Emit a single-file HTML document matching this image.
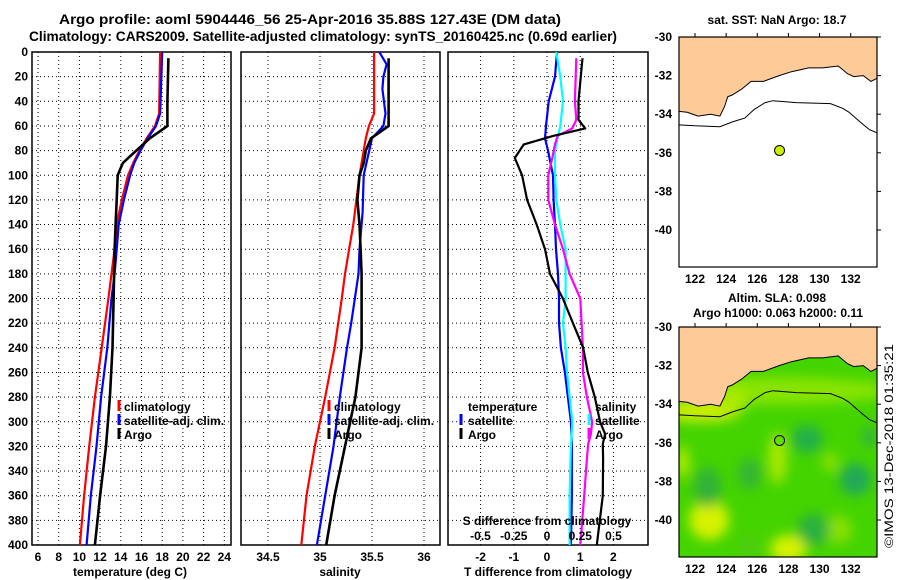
<!DOCTYPE html>
<html><head><meta charset="utf-8"><style>
html,body{margin:0;padding:0;background:#fff;}
svg{display:block;font-family:"Liberation Sans",sans-serif;font-weight:bold;}
</style></head><body>
<svg id="fig" width="900" height="580" viewBox="0 0 900 580" xmlns="http://www.w3.org/2000/svg">
<text x="310" y="24" font-size="14" text-anchor="middle" textLength="502" lengthAdjust="spacingAndGlyphs">Argo profile: aoml 5904446_56 25-Apr-2016 35.88S 127.43E (DM data)</text>
<text x="323" y="41" font-size="14" text-anchor="middle" textLength="588" lengthAdjust="spacingAndGlyphs">Climatology: CARS2009. Satellite-adjusted climatology: synTS_20160425.nc (0.69d earlier)</text>
<g id="g"></g>
<text transform="translate(893,548) rotate(-90)" font-size="12" font-weight="normal" textLength="204" lengthAdjust="spacingAndGlyphs">©IMOS 13-Dec-2018 01:35:21</text>
</svg>
<script>
// ---- data ----
const tDepthClim=[0,50,60,70,80,90,100,120,140,160,180,200,240,280,320,360,400];
const tempClim=[17.8,17.7,17.3,16.5,15.8,15.2,14.7,14.1,13.6,13.4,13.1,12.8,12.15,11.5,10.95,10.45,10.05];
const tempSat=[18.0,17.8,17.4,16.6,15.9,15.3,14.9,14.3,13.8,13.6,13.4,13.1,12.7,12.1,11.65,11.1,10.7];
const argoDepth=[5,40,60,70,80,90,100,120,140,160,180,200,240,280,320,360,400];
const tempArgo=[18.6,18.5,18.5,16.8,15.5,14.2,13.7,13.6,13.5,13.4,13.35,13.3,13.2,12.95,12.57,12.0,11.5];
const salClim=[35.52,35.52,35.47,35.44,35.42,35.40,35.38,35.35,35.32,35.28,35.24,35.21,35.14,35.05,34.95,34.87,34.82];
const salSatDepth=[0,10,20,30,50,60,70,100,130,160,180,220,240,280,320,360,400];
const salSat=[35.57,35.64,35.61,35.60,35.63,35.61,35.50,35.42,35.41,35.38,35.37,35.30,35.26,35.19,35.13,35.05,34.97];
const salArgo=[35.66,35.66,35.66,35.49,35.44,35.42,35.38,35.36,35.38,35.39,35.40,35.40,35.40,35.34,35.24,35.14,35.06];
const dDepth=[0,20,40,60,70,80,100,120,140,160,180,200,220,240,260,280,300,320,360,400];
const tDiffSat=[0.30,0.24,0.05,-0.03,-0.06,0.03,0.18,0.20,0.24,0.27,0.33,0.36,0.36,0.42,0.54,0.63,0.72,0.75,0.75,0.72];
const sDiffSat=[0.07,0.10,0.12,0.10,0.08,0.06,0.06,0.07,0.10,0.14,0.14,0.14,0.12,0.14,0.15,0.17,0.19,0.18,0.17,0.17];
const aDepth=[5,40,55,62,68,75,86,100,120,140,160,180,200,220,240,260,280,300,310,318,330,360,400];
const tDiffArgo=[1.07,0.95,0.95,1.15,0.20,-0.70,-0.97,-0.75,-0.60,-0.31,-0.06,0.09,0.48,0.78,1.09,1.23,1.44,1.60,1.75,1.68,1.69,1.68,1.50];
const sDiffArgo=[0.22,0.21,0.22,0.19,0.08,0.06,0.04,0.01,0.01,0.06,0.12,0.17,0.25,0.26,0.27,0.27,0.30,0.34,0.33,0.31,0.30,0.28,0.25];
const depthTicks=[0,20,40,60,80,100,120,140,160,180,200,220,240,260,280,300,320,340,360,380,400];
const tempTicks=[6,8,10,12,14,16,18,20,22,24];
const salTicks=[34.5,35,35.5,36];
const tdTicks=[-2,-1,0,1,2];
const sdTicks=[-0.5,-0.25,0,0.25,0.5];
const sdTickLabels=["-0.5","-0.25","0","0.25","0.5"];
const lonTicks=[122,124,126,128,130,132];
const latTicks=[-30,-32,-34,-36,-38,-40];
const coastLon=[120.9,121.5,122.2,123.0,123.6,123.9,124.1,124.4,125.0,125.6,126.4,127.4,128.2,129.3,130.2,131.2,131.8,132.2,132.8,133.3,133.8];
const coastLat=[-33.85,-33.9,-34.1,-34.0,-34.1,-33.6,-33.1,-33.0,-32.7,-32.3,-32.3,-32.0,-31.8,-31.6,-31.6,-31.5,-31.9,-32.05,-32.0,-32.3,-32.1];
const isoLon=[120.9,122.0,123.6,124.4,125.2,125.8,126.5,127.0,128.5,130.7,131.5,131.9,132.6,133.2,133.8];
const isoLat=[-34.55,-34.6,-34.65,-34.4,-34.2,-33.75,-33.4,-33.3,-33.4,-33.45,-33.7,-33.9,-34.4,-34.8,-35.0];
const floatLon=127.43, floatLat=-35.88;

// ---- helpers ----
const NS="http://www.w3.org/2000/svg";const G=document.getElementById('g');
function mk(tag,attrs,parent){const e=document.createElementNS(NS,tag);for(const k in attrs)e.setAttribute(k,attrs[k]);(parent||G).appendChild(e);return e;}
const Y0=52,Y1=545;
const yD=d=>Y0+d*(Y1-Y0)/400;
function panel(x0,x1,xf,xticks,labels,name){
  const g=mk('g',{});
  
  
  depthTicks.forEach(d=>{if(d>0&&d<400){const l=mk('line',{x1:x0,x2:x1,y1:yD(d),y2:yD(d),stroke:'#000','stroke-width':1,'stroke-dasharray':'1,3'},g);}});
  xticks.forEach((v,i)=>{const x=xf(v);if(x>x0+2&&x<x1-2){const l=mk('line',{x1:x,x2:x,y1:Y0,y2:Y1,stroke:'#000','stroke-width':1,'stroke-dasharray':'1,3'},g);}
    const t=mk('text',{x:x,y:561,'font-size':12,'text-anchor':'middle'},g);t.textContent=labels?labels[i]:v;});
  const r=mk('rect',{x:x0,y:Y0,width:x1-x0,height:Y1-Y0,fill:'none',stroke:'#000','stroke-width':1.5},g);
  
  return g;
}
function line(xs,ds,xf,color,w,name){
  const p=xs.map((v,i)=>xf(v).toFixed(1)+','+yD(ds[i]).toFixed(1)).join(' ');
  const e=mk('polyline',{points:p,fill:'none',stroke:color,'stroke-width':w,'stroke-linejoin':'round'});
  
  
}
function txt(x,y,s,size,name,anchor){const t=mk('text',{x:x,y:y,'font-size':size||12,'text-anchor':anchor||'start'});t.textContent=s;
  return t;}
function legTick(x,y,color,name){const l=mk('line',{x1:x,x2:x,y1:y-10,y2:y+1,stroke:color,'stroke-width':3});}

// ---- panel 1: temperature ----
const xT=v=>38+(v-6)*10.35;
panel(32,231,xT,tempTicks,null,'temperature-panel');
depthTicks.forEach(d=>{txt(28,yD(d)+4,d,12,'y-tick-label','end');});
line(tempClim,tDepthClim,xT,'#f00',2.2,'temp-climatology-line');
line(tempSat,tDepthClim,xT,'#00f',2.2,'temp-satellite-line');
line(tempArgo,argoDepth,xT,'#000',2.6,'temp-argo-line');
txt(130,576,'temperature (deg C)',12,'x-axis-title','middle');
legTick(119,410,'#f00','legend-swatch-climatology');txt(124,411,'climatology',12,'legend-climatology');
legTick(119,424,'#00f','legend-swatch-satellite');txt(124,425,'satellite-adj. clim.',12,'legend-satellite-adj');
legTick(119,438,'#000','legend-swatch-argo');txt(124,439,'Argo',12,'legend-argo');

// ---- panel 2: salinity ----
const xS=v=>320+(v-35)*104;
panel(241,440,xS,salTicks,null,'salinity-panel');
line(salClim,tDepthClim,xS,'#f00',2.2,'sal-climatology-line');
line(salSat,salSatDepth,xS,'#00f',2.2,'sal-satellite-line');
line(salArgo,argoDepth,xS,'#000',2.6,'sal-argo-line');
txt(340,576,'salinity',12,'x-axis-title','middle');
legTick(329,410,'#f00','legend-swatch-climatology');txt(334,411,'climatology',12,'legend-climatology');
legTick(329,424,'#00f','legend-swatch-satellite');txt(334,425,'satellite-adj. clim.',12,'legend-satellite-adj');
legTick(329,438,'#000','legend-swatch-argo');txt(334,439,'Argo',12,'legend-argo');

// ---- panel 3: differences ----
const xTD=v=>547+v*33.2;
const xSD=v=>547+v*133;
panel(448,648,xTD,tdTicks,null,'difference-panel');
line(tDiffSat,dDepth,xTD,'#00f',2.2,'tdiff-satellite-line');
line(sDiffSat,dDepth,xSD,'#0ff',2.2,'sdiff-satellite-line');
line(sDiffArgo,aDepth,xSD,'#f0f',2.2,'sdiff-argo-line');
line(tDiffArgo,aDepth,xTD,'#000',2.2,'tdiff-argo-line');
txt(548,576,'T difference from climatology',12,'x-axis-title','middle');
txt(547,525,'S difference from climatology',12,'s-axis-title','middle');
sdTicks.forEach((v,i)=>txt(xSD(v),540,sdTickLabels[i],12,'s-tick-label','middle'));
txt(468,411,'temperature',12,'legend-temperature-header');
legTick(461,424,'#00f','legend-swatch-t-satellite');txt(468,425,'satellite',12,'legend-t-satellite');
legTick(461,438,'#000','legend-swatch-t-argo');txt(468,439,'Argo',12,'legend-t-argo');
txt(595,411,'salinity',12,'legend-salinity-header');
legTick(589,424,'#0ff','legend-swatch-s-satellite');txt(595,425,'satellite',12,'legend-s-satellite');
legTick(589,438,'#f0f','legend-swatch-s-argo');txt(595,439,'Argo',12,'legend-s-argo');

// ---- maps ----
const MX0=679,MX1=877;
const lonX=l=>695+(l-122)*15.57;
function map(top,name,green){
  const latY=l=>top+(-30-l)*19.3;
  const bot=top+230;
  const g=mk('g',{});
  const cid='clip'+top;
  const cp=mk('clipPath',{id:cid},g);mk('rect',{x:MX0,y:top,width:MX1-MX0,height:bot-top},cp);
  const inner=mk('g',{'clip-path':'url(#'+cid+')'},g);
  if(green){
    const fid='blur'+top;const f=mk('filter',{id:fid,x:'-50%',y:'-50%',width:'200%',height:'200%'},g);mk('feGaussianBlur',{stdDeviation:6},f);
    const bg=mk('rect',{x:MX0,y:top,width:MX1-MX0,height:bot-top,fill:'#44d400'},inner);
    const blobs=mk('g',{filter:'url(#'+fid+')'},inner);
    [[127,-33.3,120,14,'#88e400'],[122.4,-34.4,40,10,'#ccee00'],[124.5,-33.8,14,12,'#aaea00'],
     [122.9,-40,20,20,'#d6f200'],[128,-41.5,18,14,'#d8f200'],[127.3,-36.8,9,26,'#aaea00'],[121.2,-37,6,16,'#c0ee00'],[131.2,-40.5,14,14,'#88e000'],[130.7,-37,7,9,'#99e400'],
     [129.2,-35.8,16,14,'#22b048'],[132.3,-37.9,16,16,'#20a858'],[122.8,-38.3,14,20,'#30b238'],[125.5,-37.6,12,16,'#34b636'],[129.6,-40.5,16,16,'#2cb040'],[133.2,-35.7,8,10,'#30b440'],[125.5,-41.3,12,10,'#50cc10']]
     .forEach(b=>mk('ellipse',{cx:lonX(b[0]),cy:latY(b[1]),rx:b[2],ry:b[3],fill:b[4]},blobs));
  }
  const cpts=coastLon.map((l,i)=>lonX(l).toFixed(1)+','+latY(coastLat[i]).toFixed(1));
  const land=mk('polygon',{points:MX0-5+','+(top-5)+' '+cpts.join(' ')+' '+(MX1+5)+','+(top-5),fill:'#fdca98',stroke:'#000','stroke-width':1},inner);
  
  const iso=mk('polyline',{points:isoLon.map((l,i)=>lonX(l).toFixed(1)+','+latY(isoLat[i]).toFixed(1)).join(' '),fill:'none',stroke:'#000','stroke-width':1},inner);
  
  const pt=mk('circle',{cx:lonX(floatLon),cy:latY(floatLat),r:5,fill:green?'#66dd00':'#ccee00',stroke:'#000','stroke-width':1},inner);
  
  const fr=mk('rect',{x:MX0,y:top,width:MX1-MX0,height:bot-top,fill:'none',stroke:'#000','stroke-width':1.2},g);
  
  lonTicks.forEach(l=>{mk('line',{x1:lonX(l),x2:lonX(l),y1:top-4,y2:top,stroke:'#000'},g);
    const t=mk('text',{x:lonX(l),y:bot+16,'font-size':12,'text-anchor':'middle'},g);t.textContent=l;});
  latTicks.forEach(l=>{mk('line',{x1:MX1,x2:MX1+4,y1:latY(l),y2:latY(l),stroke:'#000'},g);
    const t=mk('text',{x:672,y:latY(l)+4,'font-size':12,'text-anchor':'end'},g);t.textContent=l;});
}
map(37,'sst-map',false);
map(327,'sla-map',true);
txt(777,24,'sat. SST: NaN Argo: 18.7',12,'sst-map-title','middle');
txt(777,302,'Altim. SLA: 0.098',12,'sla-map-title','middle');
txt(778,317,'Argo h1000: 0.063 h2000: 0.11',12,'sla-map-subtitle','middle');
</script>
</body></html>
